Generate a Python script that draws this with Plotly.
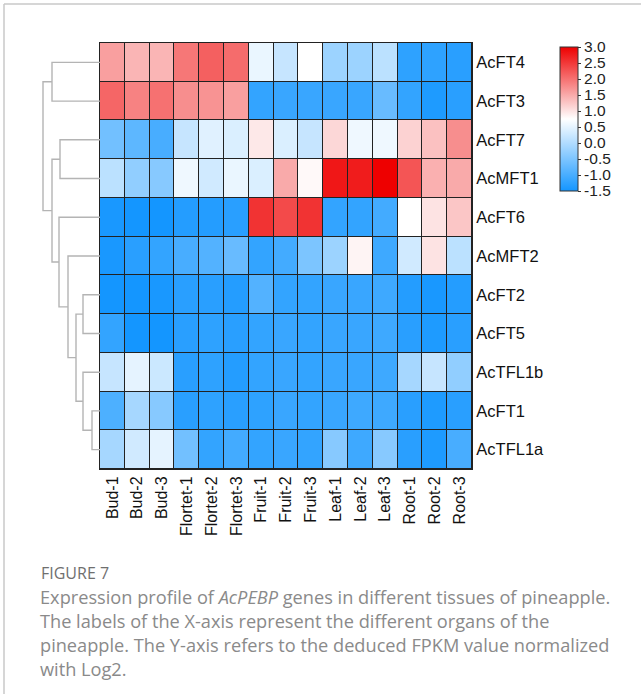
import plotly.graph_objects as go

# ---------------- data ----------------
genes = ["AcFT4", "AcFT3", "AcFT7", "AcMFT1", "AcFT6", "AcMFT2",
         "AcFT2", "AcFT5", "AcTFL1b", "AcFT1", "AcTFL1a"]
samples = ["Bud-1", "Bud-2", "Bud-3", "Flortet-1", "Flortet-2", "Flortet-3",
           "Fruit-1", "Fruit-2", "Fruit-3", "Leaf-1", "Leaf-2", "Leaf-3",
           "Root-1", "Root-2", "Root-3"]

AcFT4   = [1.6, 1.4, 1.4, 1.95, 2.15, 2.05, 0.55, 0.2, 0.75, -0.2, -0.2, 0.1, -1.25, -1.25, -1.3]
AcFT3   = [2.1, 1.85, 2.0, 1.75, 1.7, 1.6, -1.2, -1.15, -1.15, -1.15, -1.15, -0.7, -1.2, -1.4, -1.3]
AcFT7   = [-0.6, -0.8, -1.0, 0.2, 0.45, 0.4, 0.95, 0.4, 0.2, 1.1, 0.6, 0.6, 1.15, 1.3, 1.75]
AcMFT1  = [0.1, -0.3, -0.4, 0.6, 0.3, 0.55, 0.4, 1.5, 0.8, 2.8, 2.75, 3.0, 2.25, 1.45, 1.5]
AcFT6   = [-1.45, -1.5, -1.5, -1.35, -1.35, -1.3, 2.55, 2.35, 2.55, -1.2, -1.2, -1.05, 0.75, 1.0, 1.25]
AcMFT2  = [-1.45, -1.3, -1.2, -1.0, -0.9, -0.7, -1.2, -1.05, -0.5, -0.2, 0.85, -1.1, 0.3, 1.0, 0.1]
AcFT2   = [-1.5, -1.5, -1.45, -1.3, -1.3, -1.35, -0.9, -1.2, -1.2, -1.15, -1.15, -1.1, -1.35, -1.45, -1.35]
AcFT5   = [-1.2, -1.5, -1.5, -1.3, -1.25, -1.3, -1.2, -1.15, -1.2, -1.15, -1.15, -1.1, -1.3, -1.4, -1.3]
AcTFL1b = [0.2, 0.5, 0.25, -1.3, -1.25, -1.35, -1.2, -1.15, -1.2, -1.15, -1.15, -1.1, -0.1, 0.2, -0.3]
AcFT1   = [-0.95, -0.1, -0.4, -1.3, -1.25, -1.3, -1.25, -1.15, -1.2, -1.15, -1.1, -1.1, -1.3, -1.4, -1.3]
AcTFL1a = [-0.1, 0.3, 0.5, -0.6, -1.2, -1.05, -1.2, -1.15, -1.2, -0.4, -1.1, -0.4, -1.3, -1.4, -1.0]

values = [AcFT4, AcFT3, AcFT7, AcMFT1, AcFT6, AcMFT2, AcFT2, AcFT5, AcTFL1b, AcFT1, AcTFL1a]

cbar_ticks = [-1.5, -1.0, -0.5, 0.0, 0.5, 1.0, 1.5, 2.0, 2.5, 3.0]
zmin, zmax = -1.5, 3.0

# row dendrogram: merges (child_a, child_b, height); leaves are 0..10, new nodes 11..
merges = [
    (9, 10, 8),     # 11
    (6, 7, 17),     # 12
    (8, 11, 17),    # 13
    (12, 13, 24),   # 14
    (5, 14, 32),    # 15
    (4, 15, 41),    # 16
    (2, 3, 40),     # 17
    (17, 16, 48),   # 18
    (0, 1, 48),     # 19
    (19, 18, 57),   # 20
]

caption_title = "FIGURE 7"
caption_lines = [
    "Expression profile of <i>AcPEBP</i> genes in different tissues of pineapple.",
    "The labels of the X-axis represent the different organs of the",
    "pineapple. The Y-axis refers to the deduced FPKM value normalized",
    "with Log2.",
]

# ---------------- figure ----------------
W, H = 641, 694
def px(x): return x / W
def py(y): return 1 - y / H

hm_x0, hm_x1 = 100, 472
hm_y0, hm_y1 = 43, 469

fig = go.Figure()

colorscale = [[0.0, "#1496FF"], [0.5, "#FFFFFF"], [1.0, "#EE0000"]]
label_font = "Liberation Sans, Arial"

fig.add_trace(go.Heatmap(
    z=values,
    x=list(range(len(samples))),
    y=list(range(len(genes))),
    zmin=zmin, zmax=zmax,
    colorscale=colorscale,
    xgap=1, ygap=1,
    xaxis="x", yaxis="y",
    colorbar=dict(
        x=px(560), xanchor="left", y=py(47), yanchor="top",
        lenmode="pixels", len=144, thickness=18,
        thicknessmode="pixels",
        outlinewidth=1, outlinecolor="#333333",
        tickvals=cbar_ticks, ticktext=[f"{v:.1f}" for v in cbar_ticks],
        ticks="outside", ticklen=3, tickwidth=1, tickcolor="#333333",
        tickfont=dict(family=label_font, size=15.5, color="#222222"),
        xpad=0, ypad=0,
    ),
    hoverinfo="skip",
))

# dendrogram
n = len(genes)
pos = {i: float(i) for i in range(n)}
hgt = {i: 0.0 for i in range(n)}
dx, dy = [], []
for k, (a, b, h) in enumerate(merges):
    node = n + k
    ya, yb = pos[a], pos[b]
    dx += [hgt[a], h, h, hgt[b], None]
    dy += [ya, ya, yb, yb, None]
    pos[node] = (ya + yb) / 2
    hgt[node] = h

fig.add_trace(go.Scatter(
    x=dx, y=dy, mode="lines",
    line=dict(color="#b4b4b4", width=1.4),
    xaxis="x2", yaxis="y2", hoverinfo="skip", showlegend=False,
))

dend_w = hm_x0 - 40
fig.update_layout(
    width=W, height=H,
    margin=dict(l=0, r=0, t=0, b=0),
    paper_bgcolor="white", plot_bgcolor="white",
    showlegend=False,
    xaxis=dict(
        domain=[px(hm_x0), px(hm_x1)],
        range=[-0.5, len(samples) - 0.5],
        tickvals=list(range(len(samples))), ticktext=samples,
        tickangle=-90, ticks="", showgrid=False, zeroline=False,
        tickfont=dict(family=label_font, size=16, color="#111111"),
        showline=True, mirror=True, linecolor="#222222", linewidth=1,
        anchor="y", fixedrange=True,
    ),
    yaxis=dict(
        domain=[py(hm_y1), py(hm_y0)],
        range=[len(genes) - 0.5, -0.5],
        tickvals=list(range(len(genes))), ticktext=genes,
        side="right", ticks="", showgrid=False, zeroline=False,
        tickfont=dict(family=label_font, size=16.5, color="#111111"),
        showline=True, mirror=True, linecolor="#222222", linewidth=1,
        anchor="x", fixedrange=True,
    ),
    xaxis2=dict(
        domain=[px(40), px(hm_x0)],
        range=[dend_w, 0],
        visible=False, anchor="y2", fixedrange=True,
    ),
    yaxis2=dict(
        domain=[py(hm_y1), py(hm_y0)],
        range=[len(genes) - 0.5, -0.5],
        visible=False, anchor="x2", fixedrange=True,
    ),
)

# dark background behind heatmap cells to form grid lines
fig.add_shape(type="rect", xref="x domain", yref="y domain",
              x0=0, x1=1, y0=0, y1=1, fillcolor="#222222",
              line=dict(width=0), layer="below")

# frame lines
fig.add_shape(type="line", xref="paper", yref="paper",
              x0=px(4), x1=1, y0=py(4), y1=py(4),
              line=dict(color="#c8c8c8", width=1.5))
fig.add_shape(type="line", xref="paper", yref="paper",
              x0=px(4), x1=px(4), y0=py(4), y1=0,
              line=dict(color="#c8c8c8", width=1.5))

# caption
fig.add_annotation(text=caption_title, xref="paper", yref="paper",
                   x=px(39), y=py(573), xanchor="left", yanchor="middle",
                   showarrow=False,
                   font=dict(family="Open Sans", size=16, color="#6f6f6f"))
for i, line in enumerate(caption_lines):
    fig.add_annotation(text=line, xref="paper", yref="paper",
                       x=px(38), y=py(597 + 24 * i), xanchor="left", yanchor="middle",
                       showarrow=False,
                       font=dict(family="Open Sans", size=18.2, color="#8a8a8a"))

fig.write_html("out.html", config={"displayModeBar": False},
               post_script="document.body.style.margin='0px';")
